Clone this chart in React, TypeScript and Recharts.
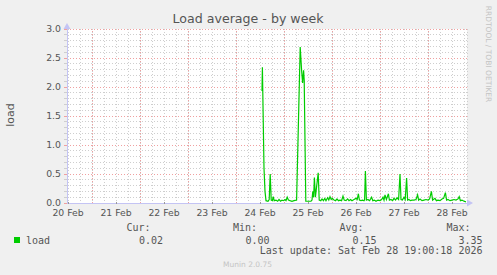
import { LineChart, Line, XAxis, YAxis, CartesianGrid, ReferenceLine, ReferenceDot } from "recharts";

// hours counted from 20 Feb 00:00, 30-min averages
const hours = [
  109.0, 109.2, 110.0, 110.5, 111.0, 112.0, 112.6, 113.1, 113.6, 114.2, 114.6, 115.1, 116.0, 116.8,
  117.5, 118.3, 119.0, 119.7, 120.5, 121.0, 121.6, 122.2, 123.0, 124.0, 125.0, 126.3, 128.1, 128.8,
  129.3, 129.8, 130.1, 130.9, 132.0, 133.5, 134.0, 134.4, 134.8, 135.2, 135.7, 136.3, 137.1, 137.6,
  138.4, 139.0, 139.7, 140.4, 141.0, 141.8, 142.4, 143.0, 143.6, 144.2, 145.0, 145.8, 146.5, 147.2,
  148.0, 148.8, 149.5, 150.1, 151.0, 151.8, 152.5, 153.3, 154.0, 155.0, 156.0, 156.6, 157.2, 157.7,
  158.5, 159.3, 160.0, 160.3, 160.7, 161.2, 162.0, 162.8, 163.8, 164.4, 165.2, 166.0, 167.0, 168.0,
  168.8, 169.5, 170.0, 170.5, 171.2, 172.2, 172.7, 173.5, 174.3, 175.0, 175.8, 176.5, 177.3, 178.0,
  178.5, 179.2, 180.0, 180.6, 181.3, 181.8, 182.5, 183.2, 184.0, 185.0, 186.0, 186.8, 187.3, 188.0,
  189.0, 190.0, 191.0, 192.0, 192.8, 193.7, 194.3, 195.5, 196.2, 197.0, 198.0, 199.0, 199.8, 200.7,
  201.3, 202.0, 203.0, 204.0, 205.0, 206.0, 207.0, 207.6, 208.2, 209.0, 210.0, 211.0,
];
const load = [
  1.93, 2.34, 0.6, 0.2, 0.04, 0.03, 0.06, 0.5, 0.05, 0.04, 0.11, 0.04, 0.05, 0.03,
  0.06, 0.03, 0.05, 0.04, 0.06, 0.04, 0.1, 0.05, 0.04, 0.03, 0.04, 0.05, 2.69, 2.29,
  2.07, 2.29, 2.12, 0.03, 0.03, 0.03, 0.05, 0.2, 0.1, 0.44, 0.1, 0.28, 0.52, 0.05,
  0.04, 0.07, 0.04, 0.08, 0.04, 0.09, 0.05, 0.11, 0.06, 0.08, 0.05, 0.04, 0.07, 0.04,
  0.05, 0.04, 0.12, 0.05, 0.04, 0.07, 0.04, 0.06, 0.04, 0.06, 0.08, 0.06, 0.16, 0.05,
  0.04, 0.05, 0.04, 0.06, 0.55, 0.05, 0.06, 0.04, 0.1, 0.04, 0.05, 0.03, 0.05, 0.04,
  0.06, 0.1, 0.05, 0.14, 0.06, 0.16, 0.05, 0.06, 0.04, 0.08, 0.05, 0.09, 0.06, 0.5,
  0.06, 0.05, 0.1, 0.06, 0.43, 0.05, 0.06, 0.04, 0.05, 0.05, 0.06, 0.14, 0.05, 0.07,
  0.04, 0.05, 0.06, 0.05, 0.07, 0.2, 0.05, 0.08, 0.04, 0.05, 0.04, 0.07, 0.08, 0.18,
  0.05, 0.06, 0.04, 0.05, 0.06, 0.05, 0.07, 0.11, 0.04, 0.05, 0.03, 0.02,
];

const dayLabels = ["20 Feb", "21 Feb", "22 Feb", "23 Feb", "24 Feb", "25 Feb", "26 Feb", "27 Feb", "28 Feb"];
const midnights = [24, 48, 72, 96, 120, 144, 168, 192];
const xTicks = [
  12, 18, 24, 30, 36, 42, 48, 54, 60, 66, 72, 78, 84, 90, 96, 102, 108, 114, 120, 126, 132, 138,
  144, 150, 156, 162, 168, 174, 180, 186, 192, 198, 204, 210,
];
const yTicks = Array.from({ length: 31 }, (_, i) => i / 10);
const yMajor = [0.5, 1, 1.5, 2, 2.5, 3];

const stats = { cur: "0.02", min: "0.00", avg: "0.15", max: "3.35" };
const lastUpdate = "Last update: Sat Feb 28 19:00:18 2026";

const data = hours.map((h, i) => ({ h, load: load[i] }));

const SANS = "DejaVu Sans, sans-serif";
const MONO = "DejaVu Sans Mono, monospace";
const TEXT = "#555";
const MINOR = "#cecece";
const MAJOR = "#f0a0a0";
const AXIS = "#c4c4f4";

const DayTick = (props: any) => {
  const { x, y, payload } = props;
  const v = payload.value;
  if ((v - 12) % 24 !== 0) return <g />;
  return (
    <g>
      <line x1={x} x2={x} y1={y - 8} y2={y - 5.5} stroke="#999" shapeRendering="crispEdges" />
      <text x={x} y={y} dy="0.71em" textAnchor="middle" fontSize={9.3} fontFamily={SANS} fill={TEXT}>
        {dayLabels[(v - 12) / 24]}
      </text>
    </g>
  );
};

const LoadTick = (props: any) => {
  const { x, y, payload } = props;
  const v = payload.value;
  const major = Math.abs(v * 2 - Math.round(v * 2)) < 1e-6;
  return (
    <g>
      <line x1={x + 3} x2={x + 6} y1={y} y2={y} stroke={major ? MAJOR : MINOR} shapeRendering="crispEdges" />
      {major && (
        <text x={x} y={y} dy="0.355em" textAnchor="end" fontSize={9.3} fontFamily={SANS} fill={TEXT}>
          {v.toFixed(1)}
        </text>
      )}
    </g>
  );
};

const ArrowRight = (p: any) => (
  <polygon points={`${p.cx},${p.cy - 3.5} ${p.cx + 6},${p.cy} ${p.cx},${p.cy + 3.5}`} fill={AXIS} />
);
const ArrowUp = (p: any) => (
  <polygon points={`${p.cx - 3.5},${p.cy} ${p.cx},${p.cy - 6} ${p.cx + 3.5},${p.cy}`} fill={AXIS} />
);

export default function App() {
  return (
    <div style={{ position: "absolute", left: 0, top: 0, width: 497, height: 275, background: "#f0f0f0" }}>
      <LineChart width={497} height={275} data={data} margin={{ top: 29, right: 30, bottom: 52, left: 27 }}>
        <CartesianGrid
          stroke={MINOR}
          strokeDasharray="1 2"
          shapeRendering="crispEdges"
          fill="#ffffff"
          fillOpacity={1}
        />
        {yMajor.map((v) => (
          <ReferenceLine
            key={"y" + v}
            y={v}
            stroke={MAJOR}
            strokeDasharray="1 2"
            shapeRendering="crispEdges"
          />
        ))}
        {midnights.map((v) => (
          <ReferenceLine
            key={"x" + v}
            x={v}
            stroke={MAJOR}
            strokeDasharray="1 2"
            shapeRendering="crispEdges"
          />
        ))}
        <XAxis
          dataKey="h"
          type="number"
          domain={[11.5, 211.5]}
          ticks={xTicks}
          interval={0}
          height={20}
          tickSize={3}
          tickMargin={3.5}
          tickLine={false}
          tick={<DayTick />}
          axisLine={{ stroke: AXIS, shapeRendering: "crispEdges" }}
          allowDataOverflow
        />
        <YAxis
          type="number"
          domain={[0, 3]}
          ticks={yTicks}
          interval={0}
          width={40}
          tickSize={4}
          tickMargin={2}
          tickLine={false}
          tick={<LoadTick />}
          axisLine={{ stroke: AXIS, shapeRendering: "crispEdges" }}
        />
        <Line
          type="linear"
          dataKey="load"
          stroke="#00cc00"
          strokeWidth={1.2}
          dot={false}
          activeDot={false}
          isAnimationActive={false}
        />
        <ReferenceDot x={211.5} y={0} r={3} ifOverflow="visible" shape={(p: any) => <ArrowRight {...p} />} />
        <ReferenceDot x={11.5} y={3} r={3} ifOverflow="visible" shape={(p: any) => <ArrowUp {...p} />} />
      </LineChart>
      <svg
        width={497}
        height={275}
        style={{ position: "absolute", left: 0, top: 0, pointerEvents: "none" }}
      >
        <text x={248} y={23} textAnchor="middle" fontSize={12.6} fontFamily={SANS} fill={TEXT}>
          Load average - by week
        </text>
        <text
          transform="translate(14,115) rotate(-90)"
          textAnchor="middle"
          fontSize={11}
          fontFamily={SANS}
          fill={TEXT}
        >
          load
        </text>
        <text
          transform="translate(486,54) rotate(90)"
          textAnchor="middle"
          fontSize={7.5}
          fontFamily={SANS}
          fill="#c4c4c4"
        >
          RRDTOOL / TOBI OETIKER
        </text>
        <rect x={14} y={237} width={6} height={6} fill="#00cc00" />
        <g fontFamily={MONO} fontSize={10} fill={TEXT}>
          <text x={26} y={243.5}>load</text>
          <text x={150.5} y={231} textAnchor="end">Cur:</text>
          <text x={163} y={243.5} textAnchor="end">{stats.cur}</text>
          <text x={257} y={231} textAnchor="end">Min:</text>
          <text x={269.5} y={243.5} textAnchor="end">{stats.min}</text>
          <text x={363.5} y={231} textAnchor="end">Avg:</text>
          <text x={376.5} y={243.5} textAnchor="end">{stats.avg}</text>
          <text x={470.5} y={231} textAnchor="end">Max:</text>
          <text x={482.5} y={243.5} textAnchor="end">{stats.max}</text>
          <text x={482.5} y={254} textAnchor="end">{lastUpdate}</text>
        </g>
        <text x={247.5} y={266.5} textAnchor="middle" fontSize={7.5} fontFamily={SANS} fill="#c4c4c4">
          Munin 2.0.75
        </text>
      </svg>
    </div>
  );
}
